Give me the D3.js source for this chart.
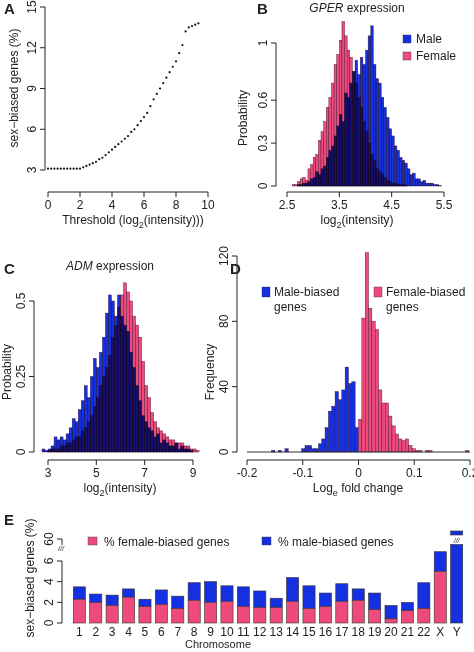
<!DOCTYPE html>
<html><head><meta charset="utf-8">
<script src="https://cdn.jsdelivr.net/npm/d3@7"></script>
<style>body{margin:0;background:#fff}text{font-family:"Liberation Sans",Arial,sans-serif;fill:#222}</style>
</head><body><svg id="c" width="474" height="652"></svg>
<script>
// ---------- Data ----------
const thrX = [0,0.2,0.4,0.6,0.8,1,1.2,1.4,1.6,1.8,2,2.2,2.4,2.6,2.8,3,3.2,3.4,3.6,3.8,4,4.2,4.4,4.6,4.8,5,5.2,5.4,5.6,5.8,6,6.2,6.4,6.6,6.8,7,7.2,7.4,7.6,7.8,8,8.2,8.4,8.6,8.8,9,9.2,9.4];
const thrY = [3.1,3.1,3.1,3.1,3.1,3.1,3.1,3.1,3.1,3.1,3.1,3.2,3.3,3.4,3.5,3.6,3.8,3.9,4.1,4.3,4.5,4.7,4.9,5.1,5.3,5.5,5.8,6.0,6.3,6.6,6.9,7.2,7.7,8.2,8.6,9.0,9.4,9.8,10.2,10.6,11.0,11.6,12.2,13.2,13.5,13.6,13.7,13.8];
const gperStart = 2.6, gperBin = 0.05;
const gperFemale = [0.01,0.01,0.03,0.05,0.06,0.04,0.12,0.15,0.20,0.22,0.32,0.38,0.45,0.55,0.62,0.72,0.85,0.92,1.02,1.15,1.05,0.95,0.90,0.80,0.72,0.62,0.55,0.45,0.38,0.30,0.22,0.18,0.12,0.10,0.08,0.06,0.04,0.03,0.02,0.02,0.01,0.01,0.01,0.005,0,0,0,0,0,0,0,0,0,0,0,0,0];
const gperMale = [0,0,0.01,0.01,0.02,0.02,0.03,0.05,0.06,0.10,0.08,0.12,0.14,0.20,0.25,0.28,0.35,0.42,0.50,0.45,0.65,0.62,0.72,0.80,0.88,0.78,0.90,0.85,0.95,1.05,1.12,0.85,0.75,0.72,0.62,0.55,0.48,0.40,0.35,0.28,0.25,0.20,0.18,0.16,0.12,0.08,0.09,0.05,0.05,0.03,0.04,0.02,0.02,0.02,0.01,0.01,0.005];
const admStart = 2.75, admBin = 0.125;
const admMale = [0.01,0.005,0.01,0.02,0.05,0.04,0.05,0.04,0.06,0.08,0.11,0.10,0.14,0.17,0.22,0.18,0.25,0.31,0.28,0.33,0.38,0.46,0.52,0.50,0.45,0.52,0.45,0.42,0.40,0.33,0.28,0.22,0.17,0.12,0.10,0.08,0.07,0.05,0.06,0.03,0.04,0.03,0.02,0.02,0.03,0.01,0.02,0.01,0.01,0.005,0,0];
const admFemale = [0,0,0.005,0.01,0.01,0.01,0.02,0.02,0.03,0.03,0.04,0.05,0.05,0.07,0.08,0.10,0.12,0.15,0.18,0.22,0.25,0.28,0.32,0.38,0.42,0.48,0.52,0.56,0.53,0.50,0.45,0.42,0.38,0.30,0.22,0.18,0.13,0.10,0.08,0.07,0.06,0.05,0.04,0.04,0.03,0.03,0.03,0.02,0.02,0.01,0.01,0.005];
const fcBin = 0.006;
const fcMaleStart = -0.156;
const fcMale = [1,0,1,0,2,0,0,0,0,2,4,4,2,2,5,8,15,25,28,37,32,38,52,42,43,15];
const fcFemaleStart = 0;
const fcFemale = [20,82,122,88,80,75,38,30,30,22,16,11,8,7,8,4,2,1,1,0,1,1,0,0,0,0,0,0,0,0,0,0,1];
const chromosomes = ["1","2","3","4","5","6","7","8","9","10","11","12","13","14","15","16","17","18","19","20","21","22","X","Y"];
const femalePct = [2.3,2.0,1.7,2.5,1.6,1.8,1.4,2.2,2.0,2.1,1.6,1.5,1.5,2.1,1.4,1.6,2.1,2.2,1.3,0.4,1.2,1.4,5.0,0];
const malePct =   [1.2,0.8,1.0,0.8,0.7,1.4,1.2,1.7,2.0,1.5,1.9,1.6,0.9,2.3,2.2,1.3,1.7,1.1,1.6,1.3,0.8,2.5,1.9,65];
const xTicksB = [2.5,3.5,4.5,5.5], yTicksB=[0,0.3,0.6,1];
const xTicksC = [3,5,7,9], yTicksC=[0,0.25,0.5];
const xTicksD = [-0.2,-0.1,0,0.1,0.2], yTicksD=[0,40,80,120];
const yTicksE = [0,2,4,6];

// ---------- Drawing ----------
const svg = d3.select("#c");
const BLUE="#1530e0", PINK="#ee4a7c";
function letter(t,x,y){svg.append("text").attr("x",x).attr("y",y).attr("font-size",15).attr("font-weight","bold").text(t);}
function yAxisR(g,y,ticks,x,fmt){
  g.append("line").attr("x1",x).attr("x2",x).attr("y1",y(ticks[0])).attr("y2",y(ticks[ticks.length-1])).attr("stroke","#222");
  ticks.forEach(t=>{g.append("line").attr("x1",x-5).attr("x2",x).attr("y1",y(t)).attr("y2",y(t)).attr("stroke","#222");
    g.append("text").attr("transform",`translate(${x-9},${y(t)}) rotate(-90)`).attr("text-anchor","middle").attr("font-size",12).text(fmt?fmt(t):t);});
}
function xAxisR(g,x,ticks,y){
  g.append("line").attr("x1",x(ticks[0])).attr("x2",x(ticks[ticks.length-1])).attr("y1",y).attr("y2",y).attr("stroke","#222");
  ticks.forEach(t=>{g.append("line").attr("x1",x(t)).attr("x2",x(t)).attr("y1",y).attr("y2",y+5).attr("stroke","#222");
    g.append("text").attr("x",x(t)).attr("y",y+17).attr("text-anchor","middle").attr("font-size",12).text(t);});
}
function ylab(t,x,y){svg.append("text").attr("transform",`translate(${x},${y}) rotate(-90)`).attr("text-anchor","middle").attr("font-size",12).text(t);}
function log2lab(x,y,pre,post){const t=svg.append("text").attr("x",x).attr("y",y).attr("text-anchor","middle").attr("font-size",12);
  t.append("tspan").text(pre);t.append("tspan").attr("dy",4).attr("font-size",9).text("2");t.append("tspan").attr("dy",-4).text(post);}
function hist(g,x,y,start,bin,vals,col,blend){
  g.selectAll(null).data(vals).join("rect")
   .attr("x",(d,i)=>x(start+i*bin)).attr("width",(d,i)=>x(start+(i+1)*bin)-x(start+i*bin))
   .attr("y",d=>y(d)).attr("height",d=>y(0)-y(d)).attr("fill",col)
   .attr("stroke","#3a1030").attr("stroke-width",0.4).style("mix-blend-mode",blend||"normal");
}

// A
letter("A",4,14);
{const g=svg.append("g");const x=d3.scaleLinear([0,10],[48,208]),y=d3.scaleLinear([3,15],[170,7]);
 yAxisR(g,y,[3,6,9,12,15],45); xAxisR(g,x,[0,2,4,6,8,10],192);
 g.selectAll(null).data(thrX).join("circle").attr("cx",d=>x(d)).attr("cy",(d,i)=>y(thrY[i])).attr("r",1.1).attr("fill","#111");
 ylab("sex\u2212biased genes (%)",18,88); log2lab(133,224,"Threshold (log","(intensity)))");}

// B
letter("B",257,14);
{const g=svg.append("g");const x=d3.scaleLinear([2.5,5.5],[287,444]),y=d3.scaleLinear([0,1],[186,43]);
 hist(g,x,y,gperStart,gperBin,gperFemale,PINK); hist(g,x,y,gperStart,gperBin,gperMale,BLUE,"multiply");
 yAxisR(g,y,yTicksB,276); xAxisR(g,x,xTicksB,192);
 ylab("Probability",247,118); log2lab(357,224,"log","(intensity)");
 const t=svg.append("text").attr("x",357).attr("y",12).attr("text-anchor","middle").attr("font-size",12);
 t.append("tspan").attr("font-style","italic").text("GPER");t.append("tspan").text(" expression");
 [["Male",BLUE,42],["Female",PINK,59]].forEach(([n,c,yy])=>{svg.append("rect").attr("x",403).attr("y",yy-7).attr("width",8).attr("height",8).attr("fill",c).attr("stroke","#333").attr("stroke-width",0.4);
   svg.append("text").attr("x",416).attr("y",yy+1).attr("font-size",12).text(n);});}

// C
letter("C",4,274);
{const g=svg.append("g");const x=d3.scaleLinear([3,9],[48,193]),y=d3.scaleLinear([0,0.5],[452,301]);
 hist(g,x,y,admStart,admBin,admFemale,PINK); hist(g,x,y,admStart,admBin,admMale,BLUE,"multiply");
 yAxisR(g,y,yTicksC,34); xAxisR(g,x,xTicksC,460);
 ylab("Probability",11,372); log2lab(120,492,"log","(intensity)");
 const t=svg.append("text").attr("x",110).attr("y",270).attr("text-anchor","middle").attr("font-size",12);
 t.append("tspan").attr("font-style","italic").text("ADM");t.append("tspan").text(" expression");}

// D
letter("D",230,274);
{const g=svg.append("g");const x=d3.scaleLinear([-0.2,0.2],[247,470]),y=d3.scaleLinear([0,120],[452,256]);
 hist(g,x,y,fcMaleStart,fcBin,fcMale,BLUE); hist(g,x,y,fcFemaleStart,fcBin,fcFemale,PINK);
 g.append("line").attr("x1",x(-0.2)).attr("x2",x(0.2)).attr("y1",452).attr("y2",452).attr("stroke","#333");
 yAxisR(g,y,yTicksD,237); xAxisR(g,x,xTicksD,460);
 ylab("Frequency",214,372);
 const t=svg.append("text").attr("x",358).attr("y",492).attr("text-anchor","middle").attr("font-size",12);
 t.append("tspan").text("Log");t.append("tspan").attr("dy",4).attr("font-size",9).text("e");t.append("tspan").attr("dy",-4).text(" fold change");
 [["Male-biased",BLUE,262,295],["Female-biased",PINK,374,295]].forEach(([n,c,xx,yy])=>{
   svg.append("rect").attr("x",xx).attr("y",yy-8).attr("width",8).attr("height",10).attr("fill",c).attr("stroke","#333").attr("stroke-width",0.4);
   svg.append("text").attr("x",xx+12).attr("y",yy+1).attr("font-size",12).text(n);
   svg.append("text").attr("x",xx+12).attr("y",yy+16).attr("font-size",12).text("genes");});}

// E
letter("E",4,525);
{const g=svg.append("g");const x=d3.scaleBand(chromosomes,[69,467]).padding(0.26),y=d3.scaleLinear([0,6],[623,561]);
 const cap=7.6;
 chromosomes.forEach((c,i)=>{const f=femalePct[i],m=malePct[i],tot=Math.min(f+m,cap);
   g.append("rect").attr("x",x(c)).attr("width",x.bandwidth()).attr("y",y(tot)).attr("height",y(f)-y(tot)).attr("fill",BLUE).attr("stroke","#333").attr("stroke-width",0.6);
   if(f>0)g.append("rect").attr("x",x(c)).attr("width",x.bandwidth()).attr("y",y(f)).attr("height",y(0)-y(f)).attr("fill",PINK).attr("stroke","#333").attr("stroke-width",0.6);
   if(f+m>cap){g.append("rect").attr("x",x(c)).attr("width",x.bandwidth()).attr("y",531).attr("height",4).attr("fill",BLUE).attr("stroke","#333").attr("stroke-width",0.6);
     g.append("text").attr("x",x(c)+x.bandwidth()/2).attr("y",543).attr("text-anchor","middle").attr("font-size",7).attr("font-style","italic").attr("fill","#888").text("///");}
   g.append("text").attr("x",x(c)+x.bandwidth()/2).attr("y",636).attr("text-anchor","middle").attr("font-size",12).text(c);});
 yAxisR(g,y,yTicksE,62);
 g.append("line").attr("x1",62).attr("x2",62).attr("y1",539).attr("y2",545).attr("stroke","#222");
 g.append("line").attr("x1",57).attr("x2",62).attr("y1",539).attr("y2",539).attr("stroke","#222");
 g.append("text").attr("transform","translate(53,539) rotate(-90)").attr("text-anchor","middle").attr("font-size",12).text("60");
 g.append("text").attr("x",61).attr("y",551).attr("text-anchor","middle").attr("font-size",7).attr("font-style","italic").attr("fill","#888").text("///");
 ylab("sex\u2212biased genes (%)",34,578);
 svg.append("text").attr("x",218).attr("y",648).attr("text-anchor","middle").attr("font-size",11).text("Chromosome");
 [["% female-biased genes",PINK,88],["% male-biased genes",BLUE,262]].forEach(([n,c,xx])=>{
   svg.append("rect").attr("x",xx).attr("y",537).attr("width",9).attr("height",8).attr("fill",c).attr("stroke","#333").attr("stroke-width",0.4);
   svg.append("text").attr("x",xx+16).attr("y",546).attr("font-size",12).text(n);});}
</script></body></html>
